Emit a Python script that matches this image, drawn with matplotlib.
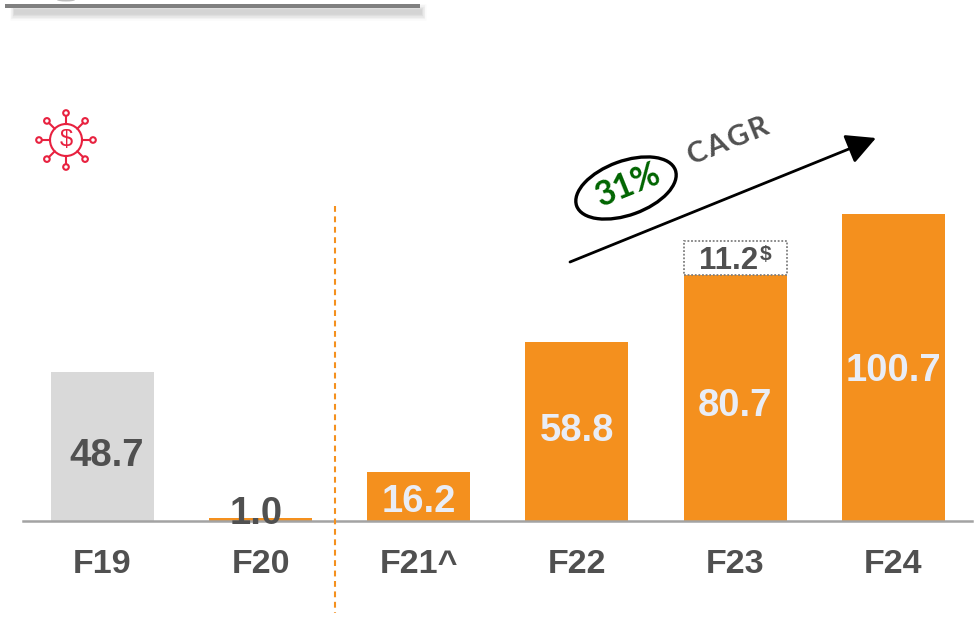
import matplotlib
matplotlib.use("Agg")
import matplotlib.pyplot as plt
from matplotlib.patches import Circle, Ellipse, FancyArrowPatch, Rectangle
import numpy as np

plt.rcParams['font.family'] = ['Liberation Sans', 'DejaVu Sans']

# --- data ---
years = ['F19', 'F20', 'F21^', 'F22', 'F23', 'F24']
values = [48.7, 1.0, 16.2, 58.8, 80.7, 100.7]
extra_f23 = 11.2
cagr = '31%'

orange = '#F4901E'
grey_bar = '#D9D9D9'
dark = '#505050'
pale = '#E9EDF6'
red = '#E8213F'
colores = [grey_bar] + [orange] * 5
label_colores = [dark, dark, pale, pale, pale, pale]

fig = plt.figure(figsize=(9.74, 6.17), dpi=100)

# main axes fills the figure, baseline at pixel 521
ax = fig.add_axes([0, 0, 1, 1])
ax.set_xlim(-0.647, 5.510)
ax.set_ylim(-31.5, 170.8)
ax.axis('off')

x = np.arange(len(years))
ax.bar(x, values, width=0.651, color=colores, zorder=2)

# dotted box on top of F23
ax.bar(4, extra_f23, width=0.651, bottom=values[4], facecolor='white',
       edgecolor='#7F7F7F', linewidth=1.3, linestyle=(0, (1, 1)), zorder=2)
ax.text(3.96, values[4] + extra_f23 / 2 - 1.2, f'{extra_f23}', ha='center', va='center',
        fontsize=22.5, fontweight='bold', color=dark, zorder=4)
ax.text(4.19, values[4] + extra_f23 / 2 + 1.0, '$', ha='center', va='center',
        fontsize=15, fontweight='bold', color=dark, zorder=4, parse_math=False)

# value labels
label_y = [21.3, 2.2, 6.1, 29.4, 37.6, 49.0]
label_dx = [0.03, -0.03, 0, 0, 0, 0]
for i in range(len(years)):
    ax.text(x[i] + label_dx[i], label_y[i], f'{values[i]}', ha='center', va='center',
            fontsize=27.5, fontweight='bold', color=label_colores[i], zorder=4)

# category labels
for i in range(len(years)):
    ax.text(x[i], -14.4, years[i], ha='center', va='center',
            fontsize=24.5, fontweight='bold', color=dark)

ax.plot([-0.5, 5.5], [0, 0], color='#A3A3A3', linewidth=1.8, zorder=3)

# overlay in pixel coordinates for the decorations
deco = fig.add_axes([0, 0, 1, 1])
deco.set_xlim(0, 974)
deco.set_ylim(617, 0)
deco.axis('off')
deco.patch.set_alpha(0)

# vertical dashed divider
deco.plot([335, 335], [206, 613], color=orange, linewidth=1.5, linestyle=(0, (2.8, 2.2)))

# header rule with soft shadow
for lw, a in [(12, 0.04), (10, 0.06), (8, 0.08), (6, 0.1), (4, 0.1)]:
    deco.plot([10 + (12 - lw) / 2, 426 - (12 - lw) / 2], [12, 12], color='#808080',
              linewidth=lw, alpha=a, solid_capstyle='butt')
deco.add_patch(Rectangle((5, 4), 415, 4, facecolor='#808080', edgecolor='none'))
deco.add_patch(Ellipse((66, 0), 18, 3, facecolor='#BDBDBD', edgecolor='none'))

# CAGR arrow
deco.add_patch(FancyArrowPatch((570, 262), (876, 138), arrowstyle='-|>,head_length=0.6,head_width=0.31',
                               mutation_scale=30, color='black', linewidth=2.0, shrinkA=0, shrinkB=0))
deco.add_patch(Ellipse((626, 188), 105, 54, angle=-20, facecolor='white',
                       edgecolor='black', linewidth=2.4))
deco.text(628, 185, cagr, rotation=22, ha='center', va='center', fontsize=24.5,
          fontweight='bold', color='#006400', family='Lato', rotation_mode='anchor')
deco.text(728, 142, 'C\u200aA\u200aG\u200aR', rotation=22, ha='center', va='center', fontsize=21,
          fontweight='bold', color=dark, family=['Lato', 'DejaVu Sans'], rotation_mode='anchor')

# money network icon
cx, cy = 66, 140
deco.add_patch(Circle((cx, cy), 16, facecolor='none', edgecolor=red, linewidth=1.5))
for ang in np.arange(0, 360, 45):
    dx, dy = np.cos(np.radians(ang)), np.sin(np.radians(ang))
    deco.plot([cx + 16 * dx, cx + 24 * dx], [cy + 16 * dy, cy + 24 * dy], color=red, linewidth=1.5)
    deco.add_patch(Circle((cx + 27 * dx, cy + 27 * dy), 2.8, facecolor='white',
                          edgecolor=red, linewidth=1.5))
deco.text(cx, cy, '$', ha='center', va='center', fontsize=17, color=red, parse_math=False)

fig.savefig('out.png', dpi=100)
